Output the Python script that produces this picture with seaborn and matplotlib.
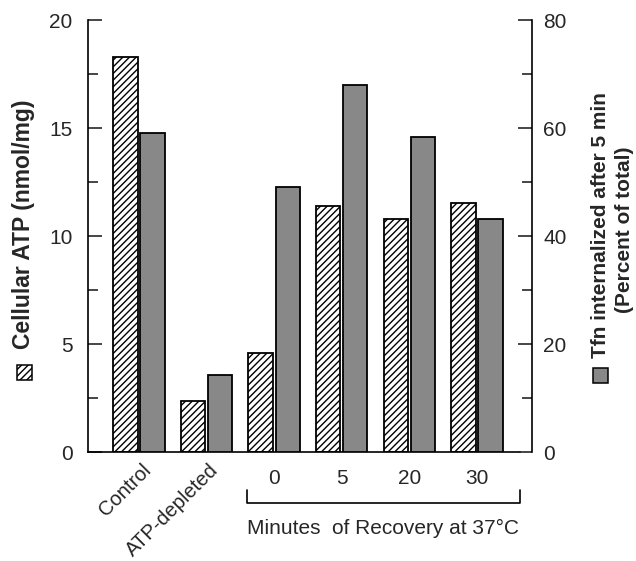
import numpy as np
import pandas as pd
import matplotlib
matplotlib.use("Agg")
import matplotlib.pyplot as plt
from matplotlib.ticker import MultipleLocator
from matplotlib.patches import Rectangle
import matplotlib.transforms as mtransforms
import seaborn as sns

# ---- data ----
conditions = ["Control", "ATP-depleted", "0", "5", "20", "30"]
atp_values = [18.3, 2.35, 4.6, 11.4, 10.8, 11.55]      # nmol/mg (left axis)
tfn_values = [59.0, 14.2, 49.0, 68.0, 58.3, 43.1]      # percent of total (right axis)
left_ticks = [0, 5, 10, 15, 20]
right_ticks = [0, 20, 40, 60, 80]

sns.set_style("white")
plt.rcParams["font.family"] = ["Liberation Sans", "DejaVu Sans"]

df = pd.concat([
    pd.DataFrame({"condition": conditions, "measure": "ATP", "value": atp_values}),
    pd.DataFrame({"condition": conditions, "measure": "Tfn", "value": tfn_values}),
], ignore_index=True)
hue_order = ["ATP", "Tfn"]
GRAY = "#888888"
palette = {"ATP": "white", "Tfn": GRAY}

W, H = 636, 561
fig = plt.figure(figsize=(W / 100, H / 100), dpi=100)
ax_l, ax_r, ax_t, ax_b = 88, 532, 20, 452
ax1 = fig.add_axes([ax_l / W, 1 - ax_b / H, (ax_r - ax_l) / W, (ax_b - ax_t) / H])
ax2 = ax1.twinx()

common = dict(x="condition", y="value", hue="measure", hue_order=hue_order, order=conditions,
              palette=palette, saturation=1, width=0.8, gap=0.1, edgecolor="black",
              linewidth=1.3, legend=False, errorbar=None)
# ATP series is read on the left axis, Tfn series on the right axis:
# draw the dodged pair on each axis and keep only the series belonging to it.
sns.barplot(data=df, ax=ax1, **common)
sns.barplot(data=df, ax=ax2, **common)

def is_white(p):
    return np.allclose(p.get_facecolor()[:3], (1, 1, 1))

for p in list(ax1.patches):
    if is_white(p):
        p.set_hatch("/////")
    else:
        p.remove()
for p in list(ax2.patches):
    if is_white(p):
        p.remove()

XL = (-0.754, 5.814)
ax1.set_ylim(0, 20)
ax2.set_ylim(0, 80)
ax1.set_xlim(*XL)
ax2.set_xlim(*XL)

ax1.set_xlabel("")
ax1.set_ylabel("")
ax2.set_ylabel("")
ax2.set_xlabel("")

# spines
for s in ["top", "right"]:
    ax1.spines[s].set_visible(False)
for s in ["top", "left", "bottom"]:
    ax2.spines[s].set_visible(False)
for a in (ax1, ax2):
    for s in a.spines.values():
        s.set_linewidth(1.2)
        s.set_color("black")
ax1.spines["bottom"].set_bounds(XL[0], 5.636)

# y ticks
ax1.set_yticks(left_ticks)
ax1.yaxis.set_minor_locator(MultipleLocator(2.5))
ax1.tick_params(axis="y", which="major", direction="in", length=10, width=1.2,
                labelsize=15, pad=11)
ax1.tick_params(axis="y", which="minor", direction="in", length=7, width=1.2)
ax2.set_yticks(right_ticks)
ax2.yaxis.set_minor_locator(MultipleLocator(10))
ax2.tick_params(axis="y", which="major", direction="in", length=10, width=1.2,
                labelsize=15, pad=8)
ax2.tick_params(axis="y", which="minor", direction="in", length=7, width=1.2)

# x ticks: labels at group centres, separator ticks between groups
ax1.set_xticks(range(len(conditions)))
ax1.set_xticklabels(["", ""] + conditions[2:])
ax1.set_xticks(np.arange(len(conditions)) - 0.53, minor=True)
ax1.tick_params(axis="x", which="major", length=0, labelsize=15, pad=12)
ax1.tick_params(axis="x", which="minor", direction="out", length=5, width=1.2)

trans = mtransforms.blended_transform_factory(ax1.transData, ax1.transAxes)
for i, name in enumerate(conditions[:2]):
    ax1.text(i + 0.03, -8 / 432, name, transform=trans, rotation=45, ha="right",
             va="top", rotation_mode="anchor", fontsize=14.5, clip_on=False)

# bracket for recovery times
bx0, bx1 = 1.598, 5.636
ytop, ybot = -0.088, -0.118
ax1.plot([bx0, bx0, bx1, bx1], [ytop, ybot, ybot, ytop], color="black", lw=1.2,
         transform=trans, clip_on=False)
ax1.text((bx0 + bx1) / 2, -0.176, "Minutes  of Recovery at 37\u00b0C", transform=trans,
         ha="center", va="center", fontsize=15)

# axis labels with pattern keys
fig.text(24 / W, 1 - 224 / H, "Cellular ATP (nmol/mg)", rotation=90, ha="center",
         va="center", fontsize=16.5, fontweight="bold")
fig.text(600 / W, 1 - 225 / H, "Tfn internalized after 5 min", rotation=90, ha="center",
         va="center", fontsize=15, fontweight="bold")
fig.text(625 / W, 1 - 230 / H, "(Percent of total)", rotation=90, ha="center",
         va="center", fontsize=15, fontweight="bold")

sq = 15
fig.patches.append(Rectangle(((24 - sq / 2) / W, 1 - (372 + sq / 2) / H), sq / W, sq / H,
                             transform=fig.transFigure, facecolor="white", edgecolor="black",
                             hatch="/////", lw=1.1))
fig.patches.append(Rectangle(((600 - sq / 2) / W, 1 - (375 + sq / 2) / H), sq / W, sq / H,
                             transform=fig.transFigure, facecolor=GRAY, edgecolor="black",
                             lw=1.1))

fig.savefig("out.png", dpi=100)
